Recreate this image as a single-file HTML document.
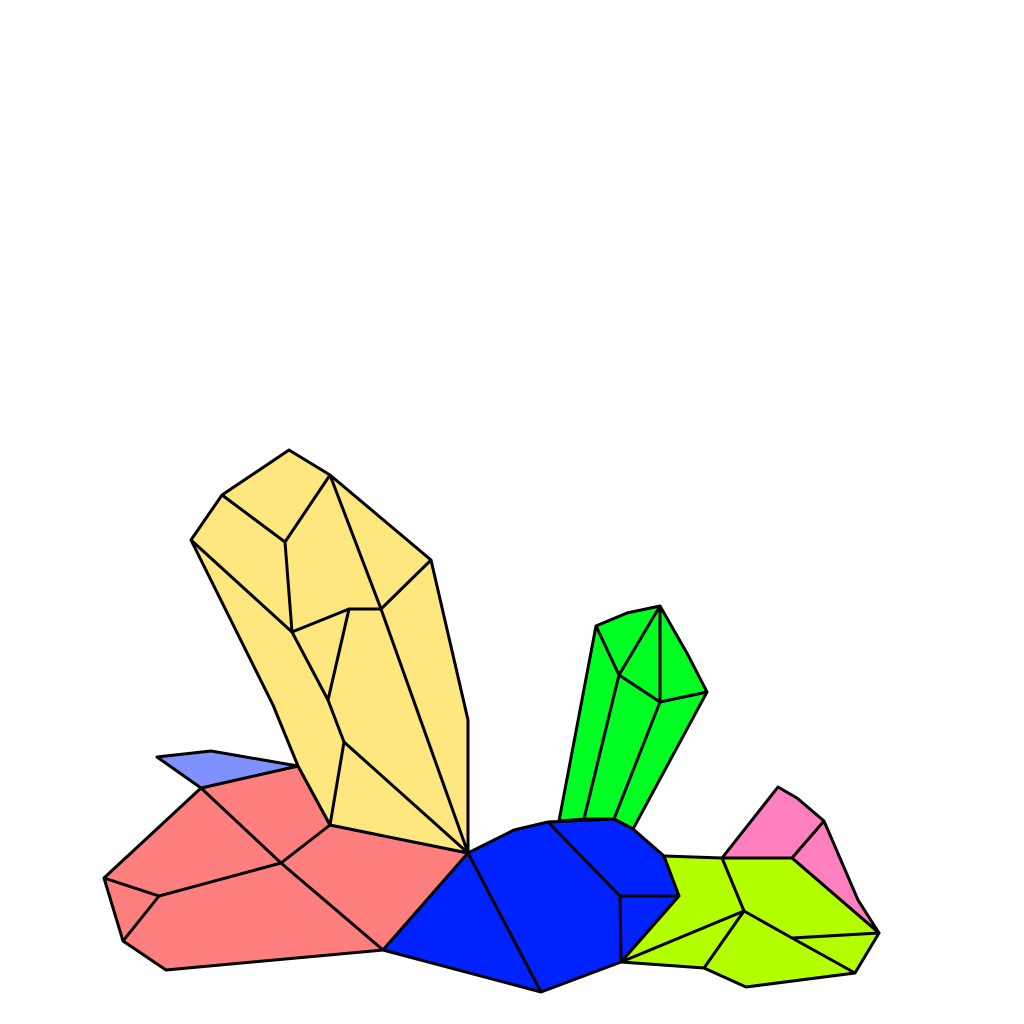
<!DOCTYPE html>
<html><head><meta charset="utf-8"><style>html,body{margin:0;padding:0;background:#fff}svg{display:block}</style></head>
<body>
<svg width="1024" height="1024" viewBox="0 0 1024 1024" stroke="#000" stroke-width="3" stroke-linejoin="round" fill="none">
<g>
<polygon fill="#ff7f7f" points="104,878 201,788 298,766 330,825 468,853 383,950 166,970 123,941"/>
<polyline points="201,788 281,863 330,825"/><polyline points="281,863 383,950"/><polyline points="104,878 159,896 281,863"/><polyline points="159,896 123,941"/>
</g>
<g>
<polygon fill="#7f91ff" points="157,757 211,751 298,766 201,788"/>
</g>
<g>
<polygon fill="#ffe77f" points="191,540 222,495 289,450 330,475 431,560 468,720 468,853 330,825 298,766 273,705"/>
<polyline points="222,495 285,542 330,475"/><polyline points="285,542 292,632 191,540"/><polyline points="330,475 381,609 431,560"/>
<polyline points="292,632 349,609 381,609"/><polyline points="349,609 328,700"/><polyline points="292,632 328,700 344,742 330,825"/>
<polyline points="344,742 468,853"/><polyline points="381,609 468,853"/>
</g>
<g>
<polygon fill="#00ff22" points="596,626 627,613 660,606 688,655 707,692 633,829 614,819 584,819 559,821"/>
<polyline points="596,626 619,675 660,606 660,702 619,675"/><polyline points="660,702 707,692"/><polyline points="619,675 584,819"/><polyline points="660,702 614,819"/>
</g>
<g>
<polygon fill="#0022ff" points="468,853 514,830 548,822 614,819 633,829 664,856 679,896 621,962 541,992 383,950"/>
<polyline points="468,853 541,992"/><polyline points="548,822 620,896 679,896"/><polyline points="620,896 621,962"/>
</g>
<g>
<polygon fill="#ff7fbf" points="722,858 778,787 797,798 824,821 858,900 879,933 792,858"/>
<polyline points="792,858 824,821"/>
</g>
<g>
<polygon fill="#b3ff00" points="664,856 722,858 792,858 879,933 855,973 746,987 704,968 621,962 679,896"/>
<polyline points="722,858 744,911 621,962"/><polyline points="744,911 704,968"/><polyline points="744,911 792,938 879,933"/><polyline points="792,938 855,973"/>
</g>
</svg>
</body></html>
